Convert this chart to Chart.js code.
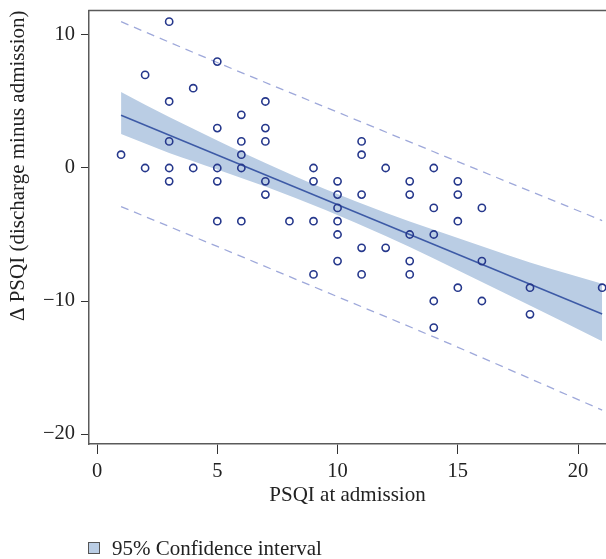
<!DOCTYPE html>
<html>
<head>
<meta charset="utf-8">
<script src="https://cdn.jsdelivr.net/npm/chart.js@4.4.1/dist/chart.umd.min.js"></script>
<style>
  html, body { margin: 0; padding: 0; background: #fff; }
  #wrap { width: 606px; height: 559px; }
</style>
</head>
<body>
<div id="wrap"><canvas id="c" width="606" height="559"></canvas></div>
<script>
// Observed data: PSQI at admission vs change (discharge minus admission)
const psqiAdmission = [1, 2, 2, 3, 3, 3, 3, 3, 4, 4, 5, 5, 5, 5, 5, 6, 6, 6, 6, 6, 7, 7, 7, 7, 7, 8, 9, 9, 9, 9, 10, 10, 10, 10, 10, 10, 11, 11, 11, 11, 11, 12, 12, 13, 13, 13, 13, 13, 14, 14, 14, 14, 14, 15, 15, 15, 15, 16, 16, 16, 18, 18, 21];
const psqiChange   = [1, 7, 0, 11, 5, 2, 0, -1, 6, 0, 8, 3, 0, -1, -4, 4, 2, 1, 0, -4, 5, 3, 2, -1, -2, -4, 0, -1, -4, -8, -1, -2, -3, -4, -5, -7, 2, 1, -2, -6, -8, 0, -6, -1, -2, -5, -7, -8, 0, -3, -5, -10, -12, -1, -2, -4, -9, -3, -7, -10, -9, -11, -9];

// Fitted line
const fitX = [1, 21];
const fitY = [3.97, -10.98];

// 95% confidence band of the fit
const bandX     = [1, 3, 5, 7, 9.5, 12, 14, 16, 18, 21];
const bandUpper = [5.72, 3.83, 2.07, 0.38, -1.60, -3.36, -4.65, -5.89, -7.10, -8.70];
const bandLower = [2.55, 1.13, -0.11, -1.40, -3.16, -5.12, -6.81, -8.57, -10.34, -13.03];

// Dashed prediction limits
const predX     = [1, 5, 9.5, 14, 21];
const predUpper = [11.0, 7.93, 4.57, 1.22, -3.95];
const predLower = [-2.9, -5.9, -9.3, -12.7, -18.2];

// Axes
const xTicks = [0, 5, 10, 15, 20];
const yTicks = [-20, -10, 0, 10];
const xTitle = 'PSQI at admission';
const yTitle = 'Δ PSQI (discharge minus admission)';
const legendLabel = '95% Confidence interval';

const toXY = (xs, ys) => xs.map((x, i) => ({ x: x, y: ys[i] }));

const FONT = "'Liberation Serif', 'DejaVu Serif', serif";
const BAND = '#bacde4';

const framePlugin = {
  id: 'frame',
  afterDraw(chart) {
    const { ctx, chartArea } = chart;
    ctx.save();
    ctx.strokeStyle = '#5a5a5a';
    ctx.lineWidth = 1.5;
    ctx.beginPath();
    ctx.moveTo(chartArea.left - 0.75, chartArea.top);
    ctx.lineTo(chartArea.right, chartArea.top);
    ctx.stroke();
    // legend
    ctx.fillStyle = BAND;
    ctx.fillRect(88.5, 542.5, 11, 11);
    ctx.strokeStyle = '#555';
    ctx.lineWidth = 1;
    ctx.strokeRect(88.5, 542.5, 11, 11);
    ctx.fillStyle = '#222';
    ctx.font = '21px ' + FONT;
    ctx.textBaseline = 'middle';
    ctx.textAlign = 'left';
    ctx.fillText(legendLabel, 112, 549);
    ctx.restore();
  }
};

new Chart(document.getElementById('c'), {
  type: 'scatter',
  data: {
    datasets: [
      {
        label: 'Observations',
        data: toXY(psqiAdmission, psqiChange),
        showLine: false,
        pointStyle: 'circle',
        pointRadius: 3.6,
        pointBorderWidth: 1.6,
        pointBorderColor: '#26388c',
        pointBackgroundColor: 'rgba(255,255,255,0)'
      },
      {
        label: 'Fit',
        data: toXY(fitX, fitY),
        showLine: true,
        borderColor: '#3d5aa6',
        borderWidth: 1.5,
        pointRadius: 0,
        fill: false
      },
      {
        label: 'Upper limit',
        data: toXY(predX, predUpper),
        showLine: true,
        borderColor: '#9ea8da',
        borderWidth: 1.3,
        borderDash: [8, 6],
        pointRadius: 0,
        cubicInterpolationMode: 'monotone',
        fill: false
      },
      {
        label: 'Lower limit',
        data: toXY(predX, predLower),
        showLine: true,
        borderColor: '#9ea8da',
        borderWidth: 1.3,
        borderDash: [8, 6],
        pointRadius: 0,
        cubicInterpolationMode: 'monotone',
        fill: false
      },
      {
        label: legendLabel,
        data: toXY(bandX, bandUpper),
        showLine: true,
        borderWidth: 0,
        borderColor: BAND,
        backgroundColor: BAND,
        pointRadius: 0,
        cubicInterpolationMode: 'monotone',
        fill: '+1'
      },
      {
        label: 'CI lower',
        data: toXY(bandX, bandLower),
        showLine: true,
        borderWidth: 0,
        borderColor: BAND,
        backgroundColor: BAND,
        pointRadius: 0,
        cubicInterpolationMode: 'monotone',
        fill: false
      }
    ]
  },
  options: {
    responsive: false,
    animation: false,
    devicePixelRatio: 1,
    layout: { autoPadding: false, padding: { top: 10.5, right: 0, left: 0, bottom: 0 } },
    plugins: {
      legend: { display: false },
      tooltip: { enabled: false }
    },
    scales: {
      x: {
        type: 'linear',
        min: -0.333,
        max: 21.16,
        afterBuildTicks(scale) { scale.ticks = xTicks.map(v => ({ value: v })); },
        afterFit(scale) {
          scale.height = 115;
          scale.paddingLeft = 0; scale.paddingRight = 0;
        },
        grid: { display: true, drawOnChartArea: false, drawTicks: true, tickLength: 10, color: '#333', lineWidth: 1 },
        border: { display: true, color: '#5a5a5a', width: 1.5 },
        ticks: {
          color: '#222',
          padding: 5,
          maxRotation: 0,
          font: { family: FONT, size: 20.5 },
          callback: v => String(v)
        },
        title: {
          display: true,
          text: xTitle,
          color: '#222',
          font: { family: FONT, size: 21 },
          padding: { top: 0, bottom: 51 }
        }
      },
      y: {
        type: 'linear',
        min: -20.75,
        max: 11.84,
        afterBuildTicks(scale) { scale.ticks = yTicks.map(v => ({ value: v })); },
        afterFit(scale) {
          scale.width = 89;
          scale.paddingTop = 0; scale.paddingBottom = 0;
        },
        grid: { display: true, drawOnChartArea: false, drawTicks: true, tickLength: 8, color: '#333', lineWidth: 1 },
        border: { display: true, color: '#5a5a5a', width: 1.5 },
        ticks: {
          color: '#222',
          padding: 6,
          font: { family: FONT, size: 20.5 },
          callback: v => (v < 0 ? '\u2212' + Math.abs(v) : String(v))
        },
        title: {
          display: true,
          text: yTitle,
          color: '#222',
          align: 'end',
          font: { family: FONT, size: 21 },
          padding: { top: 6, bottom: 0 }
        }
      }
    }
  },
  plugins: [framePlugin]
});
</script>
</body>
</html>
